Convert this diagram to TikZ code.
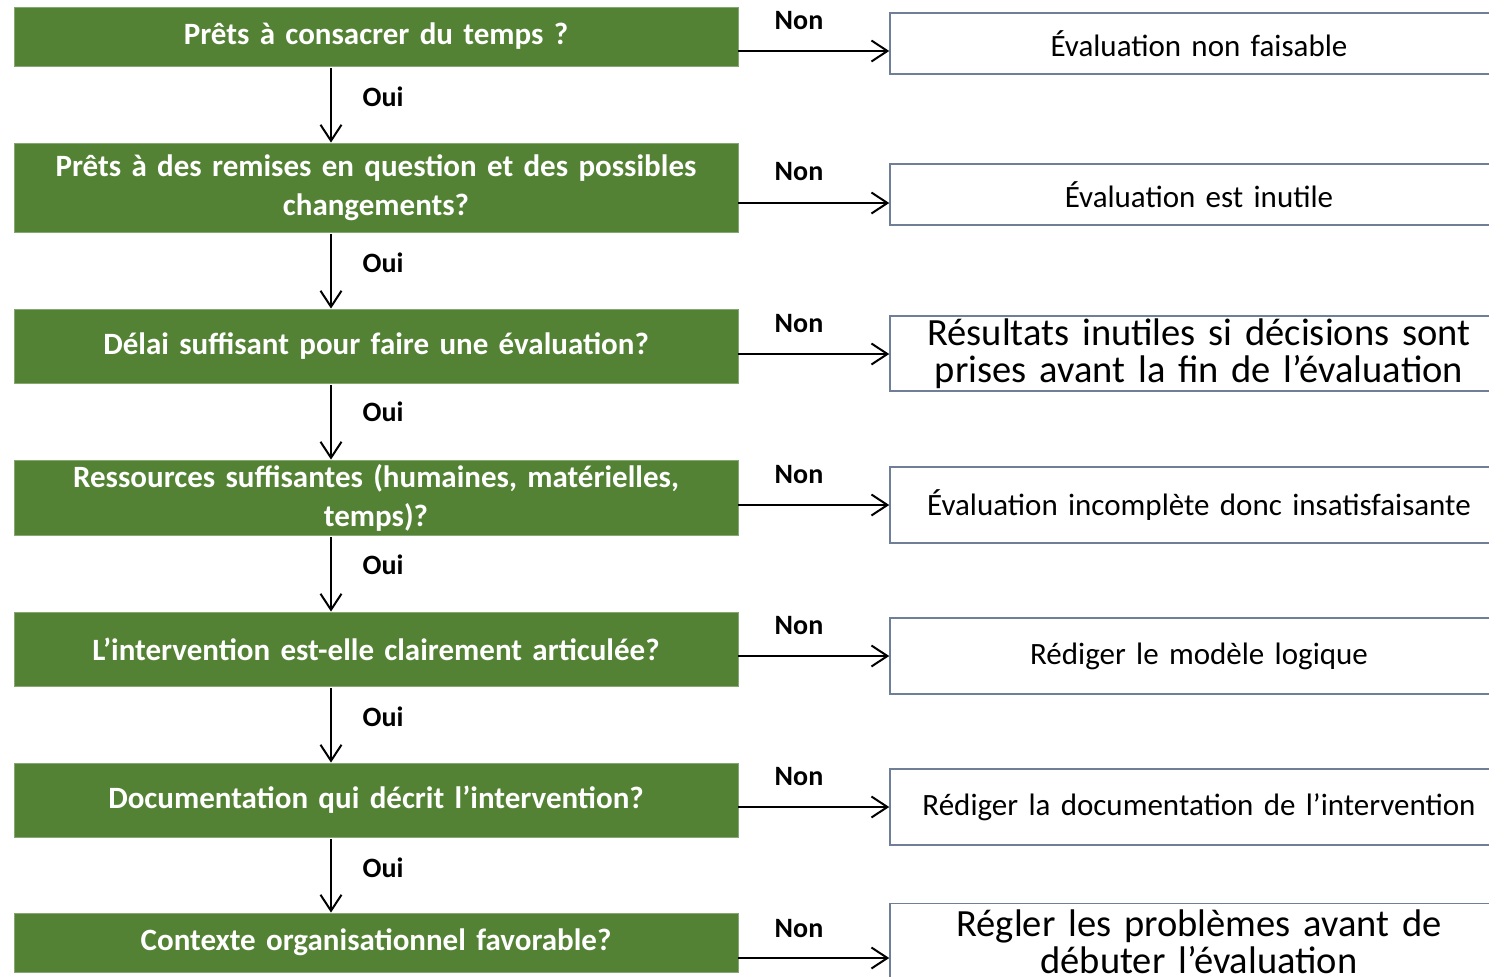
\documentclass[tikz,border=0pt]{standalone}
\usepackage{fontspec}
\setmainfont{Carlito}[WordSpace=0.85]
\usetikzlibrary{arrows.meta}
\definecolor{qgreen}{HTML}{548235}
\definecolor{rborder}{HTML}{6F7F98}
\tikzset{
  qbox/.style={fill=qgreen, draw=qgreen!70!white, line width=0.8pt, minimum width=724pt, text width=710pt, align=center, inner sep=0pt, text=white, font=\fontsize{31}{39}\selectfont\bfseries},
  rbox/.style={draw=rborder, fill=white, line width=1.5pt, minimum width=618pt, text width=610pt, align=center, inner sep=0pt, text=black, font=\fontsize{31}{35}\selectfont},
  rbig/.style={font=\fontsize{38.5}{37}\selectfont},
  arr/.style={draw=black, line width=2pt, -{Straight Barb[length=16pt,width=21pt,line width=2pt]}},
  lbl/.style={font=\fontsize{28}{30}\selectfont\bfseries, text=black, inner sep=0pt}
}
\begin{document}
\begin{tikzpicture}[x=1pt,y=-1pt]
\useasboundingbox (0,0) rectangle (1489,977);
\clip (0,0) rectangle (1489,977);
\fill[white] (0,0) rectangle (1489,977);
% question boxes
\node[qbox, minimum height=59pt] (g1) at (376,36.5) {Prêts à consacrer du temps ?};
\node[qbox, minimum height=89pt] (g2) at (376,187.5) {Prêts à des remises en question et des possibles\\changements?};
\node[qbox, minimum height=74pt] (g3) at (376,346) {Délai suffisant pour faire une évaluation?};
\node[qbox, minimum height=75pt] (g4) at (376,497.5) {Ressources suffisantes (humaines, matérielles,\\temps)?};
\node[qbox, minimum height=74pt] (g5) at (376,649) {L’intervention est-elle clairement articulée?};
\node[qbox, minimum height=74pt] (g6) at (376,800) {Documentation qui décrit l’intervention?};
\node[qbox, minimum height=59pt] (g7) at (376,942.5) {Contexte organisationnel favorable?};
% result boxes
\node[rbox, minimum height=61pt] (r1) at (1199,43.5) {Évaluation non faisable};
\node[rbox, minimum height=61pt] (r2) at (1199,194.5) {Évaluation est inutile};
\node[rbox, rbig, minimum height=75pt] (r3) at (1199,353.5) {Résultats inutiles si décisions sont\\prises avant la fin de l’évaluation};
\node[rbox, minimum height=76pt] (r4) at (1199,505) {Évaluation incomplète donc insatisfaisante};
\node[rbox, minimum height=76pt] (r5) at (1199,656) {Rédiger le modèle logique};
\node[rbox, minimum height=76pt] (r6) at (1199,807) {Rédiger la documentation de l’intervention};
\node[rbox, rbig, minimum height=77pt] (r7) at (1199,942) {Régler les problèmes avant de\\débuter l’évaluation};
% vertical "Oui" arrows
\coordinate (vx) at (331,0);
\draw[arr] ([yshift=-2pt]g1.south -| vx) -- (g2.north -| vx);
\draw[arr] ([yshift=-2pt]g2.south -| vx) -- (g3.north -| vx);
\draw[arr] ([yshift=-2pt]g3.south -| vx) -- (g4.north -| vx);
\draw[arr] ([yshift=-2pt]g4.south -| vx) -- (g5.north -| vx);
\draw[arr] ([yshift=-2pt]g5.south -| vx) -- (g6.north -| vx);
\draw[arr] ([yshift=-2pt]g6.south -| vx) -- (g7.north -| vx);
\node[lbl] (o1) at (383,97) {Oui};
\node[lbl] (o2) at (383,263) {Oui};
\node[lbl] (o3) at (383,412) {Oui};
\node[lbl] (o4) at (383,565) {Oui};
\node[lbl] (o5) at (383,717) {Oui};
\node[lbl] (o6) at (383,868) {Oui};
% horizontal "Non" arrows
\draw[arr] (g1.east |- 0,51) -- (r1.west |- 0,51);
\draw[arr] (g2.east |- 0,203) -- (r2.west |- 0,203);
\draw[arr] (g3.east |- 0,354) -- (r3.west |- 0,354);
\draw[arr] (g4.east |- 0,505) -- (r4.west |- 0,505);
\draw[arr] (g5.east |- 0,656) -- (r5.west |- 0,656);
\draw[arr] (g6.east |- 0,807) -- (r6.west |- 0,807);
\draw[arr] (g7.east |- 0,958) -- (r7.west |- 0,958);
\node[lbl] (n1) at (799,21) {Non};
\node[lbl] (n2) at (799,172) {Non};
\node[lbl] (n3) at (799,324) {Non};
\node[lbl] (n4) at (799,475) {Non};
\node[lbl] (n5) at (799,626) {Non};
\node[lbl] (n6) at (799,777) {Non};
\node[lbl] (n7) at (799,929) {Non};
\end{tikzpicture}
\end{document}
